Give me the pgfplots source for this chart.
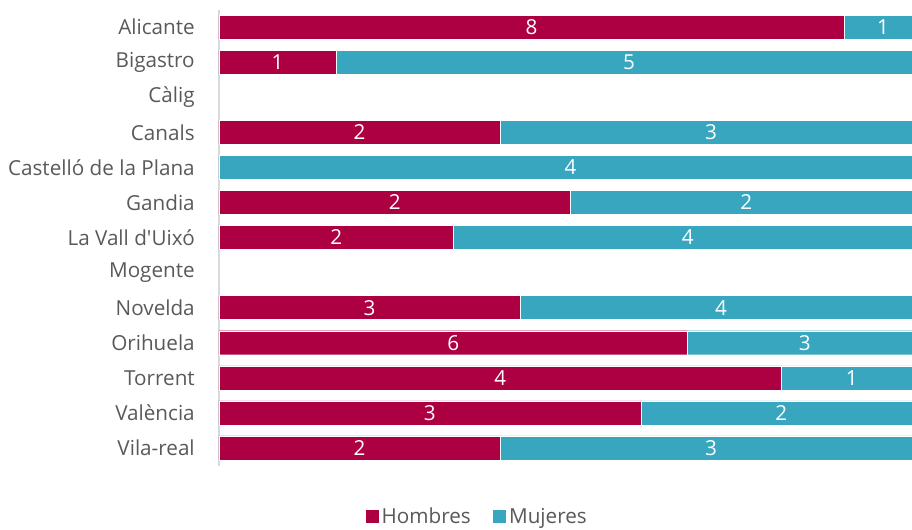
\documentclass[border=0pt]{standalone}
\usepackage{fontspec}
\setmainfont{Open Sans}
\usepackage{pgfplots}
\pgfplotsset{compat=1.18}
\definecolor{hom}{HTML}{AD0042}
\definecolor{muj}{HTML}{38A6BE}
\definecolor{txt}{HTML}{595959}
\definecolor{axl}{HTML}{D9D9D9}
\begin{document}
\begin{tikzpicture}
\begin{axis}[
  at={(0,0)}, anchor=south west,
  scale only axis,
  width=519.75pt, height=342pt,
  xbar stacked,
  bar width=18pt,
  xmin=0, xmax=98.58,
  ymin=-0.5, ymax=12.5,
  y dir=reverse,
  hide x axis,
  axis y line*=left,
  y axis line style={-, draw=axl, line width=1.2pt},
  ytick={0,...,12},
  yticklabels={Alicante,Bigastro,Càlig,Canals,Castelló de la Plana,Gandia,La Vall d\textquotesingle Uixó,Mogente,Novelda,Orihuela,Torrent,València,Vila-real},
  major tick length=0pt,
  yticklabel style={font=\fontsize{15.5}{18}\selectfont, text=txt, anchor=east, inner sep=0pt, xshift=-18pt},
  clip=true,
  legend style={at={(axis description cs:0.3723,-0.1129)}, anchor=center, draw=none, legend columns=2,
    font=\fontsize{15.5}{18}\selectfont, text=txt,
    /tikz/every even column/.append style={column sep=14pt}},
  legend image code/.code={\fill[#1] (0pt,-5pt) rectangle (10.5pt,5.5pt);},
]
\addplot[fill=hom, draw=white, line width=0.3pt] coordinates {
 (88.889,0) (16.667,1) (0,2) (40,3) (0,4) (50,5) (33.333,6) (0,7) (42.857,8) (66.667,9) (80,10) (60,11) (40,12)};
\addlegendentry{Hombres}
\addplot[fill=muj, draw=white, line width=0.3pt] coordinates {
 (11.111,0) (83.333,1) (0,2) (60,3) (100,4) (50,5) (66.667,6) (0,7) (57.143,8) (33.333,9) (20,10) (40,11) (60,12)};
\addlegendentry{Mujeres}
\end{axis}
\begin{axis}[
  at={(0,0)}, anchor=south west,
  scale only axis,
  width=519.75pt, height=342pt,
  xmin=0, xmax=98.58,
  ymin=-0.5, ymax=12.5,
  y dir=reverse,
  hide axis,
  clip=false,
  point meta=explicit,
  nodes near coords,
  /pgf/number format/assume math mode=true,
  every node near coord/.append style={anchor=center, text=white, font=\fontsize{15.5}{18}\selectfont, inner sep=0pt},
]
\addplot[draw=none, mark=none, only marks] coordinates {
 (44.444,0) [8] (8.333,1) [1] (20,3) [2] (25,5) [2] (16.667,6) [2] (21.429,8) [3] (33.333,9) [6] (40,10) [4] (30,11) [3] (20,12) [2]};
\addplot[draw=none, mark=none, only marks] coordinates {
 (94.444,0) [1] (58.333,1) [5] (70,3) [3] (50,4) [4] (75,5) [2] (66.667,6) [4] (71.429,8) [4] (83.333,9) [3] (90,10) [1] (80,11) [2] (70,12) [3]};
\end{axis}
\pgfresetboundingbox
\path[use as bounding box] (-164.25pt,-47.625pt) rectangle (519.75pt,349.125pt);
\end{tikzpicture}
\end{document}
